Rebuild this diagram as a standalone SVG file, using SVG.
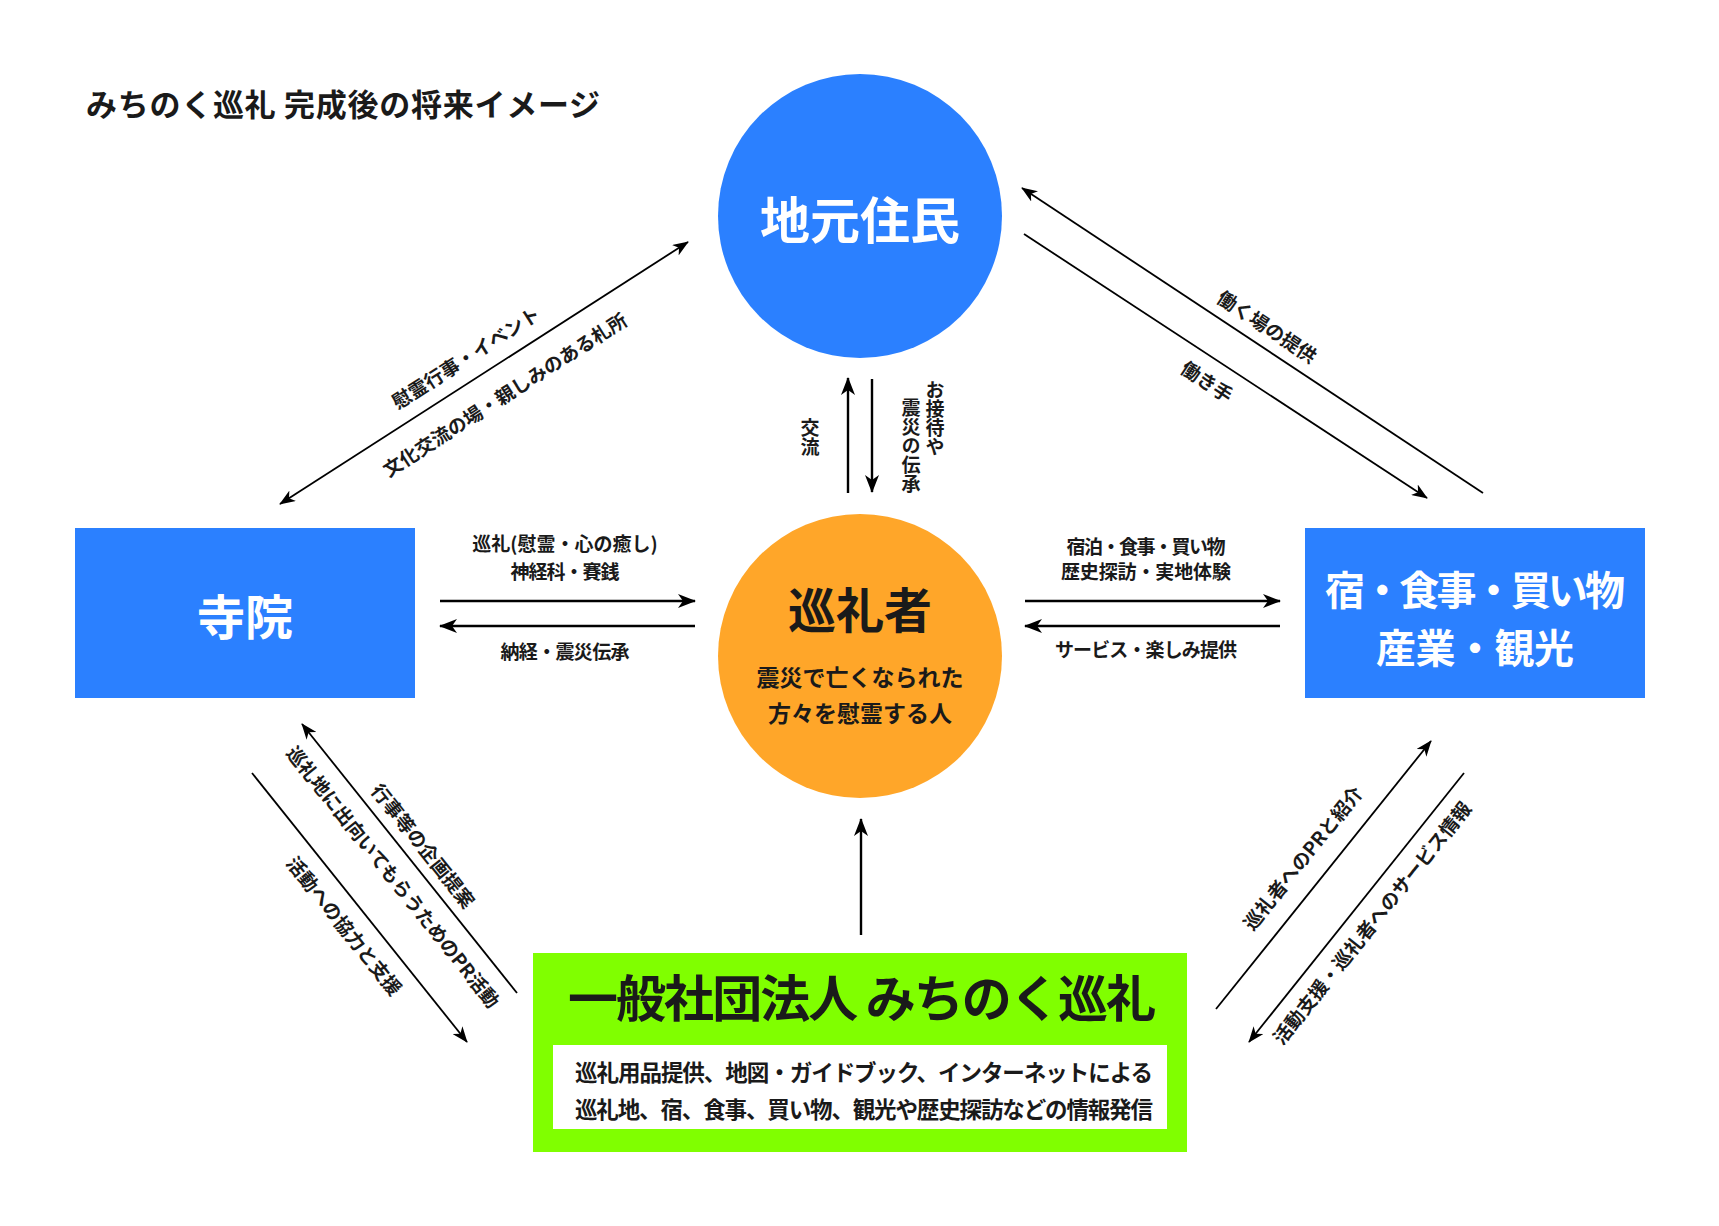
<svg xmlns="http://www.w3.org/2000/svg" width="1719" height="1226" viewBox="0 0 1719 1226">
<style>
  text { font-family: "Noto Sans CJK JP", "Noto Sans", sans-serif; font-weight: 700; fill: #1a1a1a; }
  .w { fill: #ffffff; }
  .lbl { font-size: 19px; }
  .mid { text-anchor: middle; }
  .blue { fill: #2b80ff; }
  .ln { stroke: #000; fill: none; }
  .h { stroke-width: 2.4; }
  .d { stroke-width: 1.8; }
  .vt { writing-mode: vertical-rl; font-size: 19px; }
</style>
<defs>
  <marker id="ah" viewBox="0 0 18 14" refX="17" refY="7" markerWidth="18" markerHeight="14" orient="auto-start-reverse" markerUnits="userSpaceOnUse">
    <path d="M0,0 L18,7 L0,14 L5,7 z" fill="#000"/>
  </marker>
  <marker id="ahs" viewBox="0 0 18 14" refX="17" refY="7" markerWidth="16" markerHeight="12.5" orient="auto-start-reverse" markerUnits="userSpaceOnUse">
    <path d="M0,0 L18,7 L0,14 L5,7 z" fill="#000"/>
  </marker>
</defs>
<rect width="1719" height="1226" fill="#ffffff"/>

<g id="title">
  <text x="86" y="116" font-size="31" textLength="514" lengthAdjust="spacing">みちのく巡礼 完成後の将来イメージ</text>
</g>

<g id="node-residents">
  <circle cx="860" cy="216" r="142" class="blue"/>
  <text x="860" y="239" font-size="50" class="w mid">地元住民</text>
</g>

<g id="node-pilgrim">
  <circle cx="860" cy="656" r="142" fill="#ffa629"/>
  <text x="860" y="628" font-size="48" class="mid">巡礼者</text>
  <text x="860" y="686" font-size="23" class="mid">震災で亡くなられた</text>
  <text x="860" y="722" font-size="23" class="mid">方々を慰霊する人</text>
</g>

<g id="node-temple">
  <rect x="75" y="528" width="340" height="170" class="blue"/>
  <text x="245" y="635" font-size="48" class="w mid">寺院</text>
</g>

<g id="node-business">
  <rect x="1305" y="528" width="340" height="170" class="blue"/>
  <text x="1475" y="605" font-size="40" class="w mid" textLength="300" lengthAdjust="spacing">宿・食事・買い物</text>
  <text x="1475" y="663" font-size="40" class="w mid" textLength="198" lengthAdjust="spacing">産業・観光</text>
</g>

<g id="node-association">
  <rect x="533" y="953" width="654" height="199" fill="#80ff00"/>
  <text x="862" y="1017" font-size="50" class="mid" textLength="588" lengthAdjust="spacing">一般社団法人 みちのく巡礼</text>
  <rect x="553" y="1045" width="614" height="84" fill="#ffffff"/>
  <text x="575" y="1081" font-size="22.5" textLength="578" lengthAdjust="spacing">巡礼用品提供、地図・ガイドブック、インターネットによる</text>
  <text x="575" y="1118" font-size="22.5" textLength="578" lengthAdjust="spacing">巡礼地、宿、食事、買い物、観光や歴史探訪などの情報発信</text>
</g>

<g id="connectors">
  <line x1="440" y1="601" x2="695" y2="601" class="ln h" marker-end="url(#ah)"/>
  <line x1="695" y1="626" x2="440" y2="626" class="ln h" marker-end="url(#ah)"/>
  <line x1="1025" y1="601" x2="1280" y2="601" class="ln h" marker-end="url(#ah)"/>
  <line x1="1280" y1="626" x2="1025" y2="626" class="ln h" marker-end="url(#ah)"/>
  <line x1="848" y1="493" x2="848" y2="378" class="ln h" marker-end="url(#ah)"/>
  <line x1="872" y1="379" x2="872" y2="492" class="ln h" marker-end="url(#ah)"/>
  <line x1="861" y1="935" x2="861" y2="819" class="ln h" marker-end="url(#ah)"/>
  <line x1="280" y1="504" x2="688" y2="242" class="ln d" marker-start="url(#ahs)" marker-end="url(#ahs)"/>
  <line x1="1483" y1="493" x2="1022" y2="188" class="ln d" marker-end="url(#ahs)"/>
  <line x1="1024" y1="234" x2="1427" y2="498" class="ln d" marker-end="url(#ahs)"/>
  <line x1="517" y1="993" x2="302" y2="724" class="ln d" marker-end="url(#ahs)"/>
  <line x1="252" y1="773" x2="467" y2="1042" class="ln d" marker-end="url(#ahs)"/>
  <line x1="1216" y1="1009" x2="1431" y2="741" class="ln d" marker-end="url(#ahs)"/>
  <line x1="1464" y1="773" x2="1249" y2="1042" class="ln d" marker-end="url(#ahs)"/>
</g>

<g id="connector-labels">
  <text x="565" y="551" class="lbl mid">巡礼(慰霊・心の癒し)</text>
  <text x="565" y="579" class="lbl mid" textLength="109" lengthAdjust="spacing">神経科・賽銭</text>
  <text x="565" y="659" class="lbl mid" textLength="129" lengthAdjust="spacing">納経・震災伝承</text>

  <text x="1146" y="554" class="lbl mid" textLength="159" lengthAdjust="spacing">宿泊・食事・買い物</text>
  <text x="1146" y="579" class="lbl mid" textLength="170" lengthAdjust="spacing">歴史探訪・実地体験</text>
  <text x="1146" y="657" class="lbl mid" textLength="182" lengthAdjust="spacing">サービス・楽しみ提供</text>

  <text x="810" y="418" class="vt">交流</text>
  <text x="935" y="380" class="vt">お接待や</text>
  <text x="911" y="398" class="vt">震災の伝承</text>

  <text transform="translate(466,358) rotate(-32.7)" y="7" class="lbl mid" font-size="20">慰霊行事・イベント</text>
  <text transform="translate(505,395) rotate(-32.7)" y="7" class="lbl mid" font-size="20">文化交流の場・親しみのある札所</text>

  <text transform="translate(1267,327) rotate(33.5)" y="7" class="lbl mid" font-size="20">働く場の提供</text>
  <text transform="translate(1207,382) rotate(33.5)" y="7" class="lbl mid" font-size="20">働き手</text>

  <text transform="translate(423,846) rotate(51.4)" y="7" class="lbl mid" font-size="20">行事等の企画提案</text>
  <text transform="translate(393,877) rotate(51.4)" y="7" class="lbl mid" font-size="20">巡礼地に出向いてもらうためのPR活動</text>
  <text transform="translate(344,926) rotate(51.4)" y="7" class="lbl mid" font-size="20">活動への協力と支援</text>

  <text transform="translate(1303,858) rotate(-51.3)" y="7" class="lbl mid" font-size="20">巡礼者へのPRと紹介</text>
  <text transform="translate(1372,923) rotate(-51.3)" y="7" class="lbl mid" font-size="20">活動支援・巡礼者へのサービス情報</text>
</g>
</svg>
